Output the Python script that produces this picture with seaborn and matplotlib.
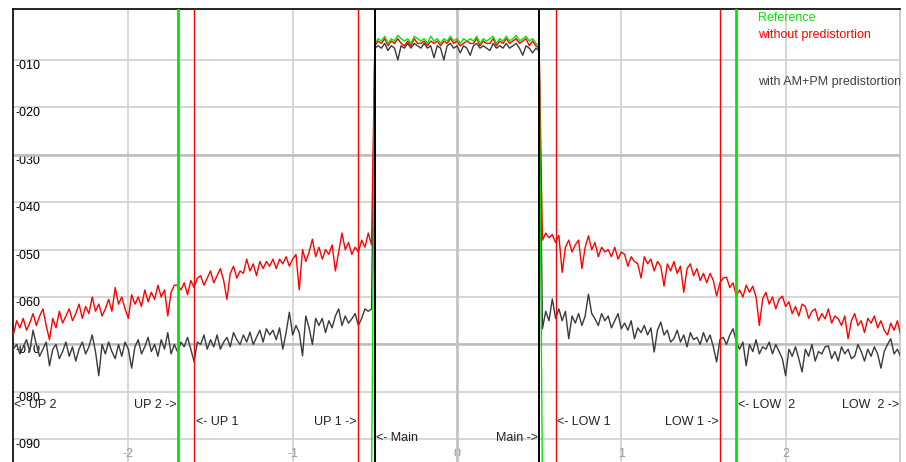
import numpy as np
import pandas as pd
import seaborn as sns
from matplotlib import pyplot as plt

sns.set_style("white")
plt.rcParams["font.family"] = ["Liberation Sans", "DejaVu Sans"]
plt.rcParams["font.size"] = 9

# frequency grid of the three bands (main channel and both adjacent sides)
left_x = np.linspace(-2.70, -0.52, 110)
main_x = np.linspace(-0.50, 0.50, 51)
right_x = np.linspace(0.52, 2.70, 110)

# main channel level, dB
ref_main = [-6.5, -5.5, -6.0, -5.0, -6.5, -5.5, -6.0, -4.8, -5.5, -6.0,
            -5.5, -6.5, -5.0, -5.5, -6.0, -5.5, -6.5, -5.0, -6.0, -5.5,
            -6.5, -5.5, -6.0, -5.0, -6.0, -5.5, -6.5, -5.5, -6.0, -5.5,
            -6.0, -5.0, -6.5, -5.5, -6.0, -5.5, -5.0, -6.5, -5.5, -6.0,
            -5.0, -6.0, -5.5, -4.8, -6.0, -5.5, -5.0, -6.0, -5.5, -6.5, -7.0]
raw_main = [-7.0, -6.0, -6.5, -5.5, -7.0, -6.0, -6.5, -5.5, -6.5, -7.0,
            -6.0, -7.0, -5.5, -6.5, -6.5, -6.0, -7.0, -6.0, -6.5, -6.0,
            -7.0, -6.0, -6.5, -5.5, -6.5, -6.0, -7.0, -6.5, -6.0, -6.5,
            -6.5, -5.5, -7.0, -6.0, -6.5, -6.5, -5.5, -7.0, -6.0, -6.5,
            -5.5, -6.5, -6.0, -5.5, -6.5, -6.0, -5.5, -7.0, -6.0, -7.0, -7.5]
pd_main = [-7.5, -7.0, -7.5, -6.5, -8.0, -7.0, -7.5, -10.0, -7.0, -7.5,
           -6.5, -7.5, -6.5, -7.0, -7.5, -6.5, -7.5, -7.0, -9.5, -7.0,
           -7.5, -10.0, -7.0, -6.5, -7.5, -7.0, -8.5, -7.0, -7.5, -9.0,
           -7.0, -6.5, -7.5, -7.0, -7.5, -8.0, -6.5, -7.5, -7.0, -7.5,
           -6.5, -7.5, -7.0, -6.5, -7.5, -9.0, -7.0, -7.5, -8.5, -7.5, -8.0]

# without predistortion, adjacent bands
raw_left = [-68.0, -65.0, -66.5, -64.5, -67.0, -65.5, -63.5, -66.0, -64.0, -62.5,
            -66.0, -69.0, -64.5, -66.5, -63.0, -65.5, -64.0, -62.5, -65.0, -63.5,
            -61.5, -64.5, -62.0, -63.5, -60.0, -63.0, -61.5, -64.0, -62.5, -60.5,
            -63.0, -58.0, -61.5, -60.0, -62.5, -64.5, -59.5, -61.5, -60.0, -62.0,
            -58.5, -61.0, -59.0, -60.5, -57.5, -60.0, -58.5, -64.0, -59.0, -57.5,
            -57.5, -58.5, -57.0, -59.5, -56.5, -58.0, -56.0, -55.5, -57.5, -56.0,
            -54.5, -57.0, -55.5, -54.0, -56.5, -60.5, -55.0, -53.5, -56.0, -54.5,
            -55.0, -52.0, -54.5, -53.0, -55.5, -52.5, -54.0, -52.5, -53.5, -52.0,
            -54.0, -52.0, -53.0, -51.5, -53.5, -52.0, -51.0, -58.5, -50.0, -52.5,
            -50.5, -47.8, -51.5, -49.5, -52.0, -50.0, -51.0, -49.0, -54.5, -50.5,
            -46.5, -50.0, -48.5, -51.0, -49.5, -50.5, -48.0, -49.5, -46.5, -49.0]
raw_right = [-48.0, -46.5, -47.5, -46.8, -48.5, -47.0, -54.8, -49.5, -48.0, -50.5,
             -49.0, -48.0, -54.0, -49.5, -47.1, -50.0, -48.5, -51.5, -49.5, -50.5,
             -50.0, -51.5, -49.5, -52.0, -50.5, -51.0, -53.5, -51.5, -52.5, -53.0,
             -56.0, -51.5, -53.0, -52.0, -54.5, -52.5, -53.5, -57.7, -53.0, -54.5,
             -52.5, -55.0, -53.5, -59.0, -54.0, -53.0, -55.5, -54.0, -56.5, -55.0,
             -57.0, -55.0, -56.5, -59.8, -57.0, -56.0, -55.8, -58.0, -57.0, -59.8,
             -58.5, -60.0, -57.5, -59.0, -57.7, -60.0, -66.0, -60.4, -59.0, -61.5,
             -60.0, -62.5, -60.5, -59.8, -62.0, -61.0, -63.5, -62.0, -64.0, -61.5,
             -62.0, -64.5, -63.0, -62.5, -65.0, -63.5, -64.6, -62.5, -65.5, -64.0,
             -64.6, -66.0, -64.0, -68.8, -65.0, -63.5, -66.0, -65.0, -67.5, -64.5,
             -65.5, -64.0, -66.5, -65.0, -67.0, -68.0, -65.5, -67.0, -65.0, -68.0]

# with AM+PM predistortion, adjacent bands
pd_left = [-71.0, -70.0, -72.0, -70.5, -69.0, -71.5, -67.0, -70.0, -72.5, -71.0,
           -69.5, -74.5, -71.0, -70.0, -73.0, -71.5, -69.5, -72.5, -70.5, -73.5,
           -71.0, -69.5, -72.0, -70.5, -68.0, -71.5, -76.6, -70.0, -72.0, -69.5,
           -71.5, -73.0, -70.0, -72.5, -69.5, -71.0, -75.0, -70.5, -69.0, -72.0,
           -70.5, -68.5, -71.5, -70.0, -72.5, -69.0, -71.0, -67.5, -72.0, -70.0,
           -71.6, -69.5, -70.5, -68.5, -71.0, -73.6, -69.5, -70.0, -68.0, -71.0,
           -69.0, -70.5, -68.0, -71.0, -69.5, -68.5, -70.5, -67.5, -69.0, -70.0,
           -68.0, -69.5, -67.4, -70.0, -68.5, -67.0, -69.5, -66.7, -68.0, -67.0,
           -69.0, -66.5, -71.0, -67.5, -63.2, -68.0, -66.0, -67.5, -72.4, -64.0,
           -66.5, -70.0, -64.5, -66.0, -64.5, -67.5, -65.0, -66.5, -64.0, -62.5,
           -66.0, -64.0, -65.5, -64.6, -63.5, -66.0, -64.5, -62.5, -63.0, -62.5]
pd_right = [-66.7, -63.0, -65.0, -60.4, -64.5, -62.5, -65.0, -63.0, -68.8, -64.0,
            -65.5, -63.5, -66.0, -64.0, -59.4, -63.5, -64.6, -66.0, -63.5, -65.0,
            -64.0, -66.5, -65.0, -63.5, -66.7, -65.5, -67.0, -65.0, -68.8, -66.5,
            -67.5, -66.0, -68.0, -66.5, -71.6, -67.0, -65.3, -68.0, -67.0, -69.5,
            -68.8, -67.0, -69.5, -68.0, -70.5, -67.5, -69.0, -68.5, -70.0, -67.5,
            -69.5, -68.0, -70.5, -73.7, -69.0, -68.5, -70.0, -68.0, -66.7, -69.5,
            -71.0, -69.5, -74.5, -70.0, -71.5, -69.0, -72.0, -70.5, -71.0, -69.5,
            -72.0, -70.0, -71.5, -73.0, -76.6, -71.0, -72.5, -70.5, -73.0, -75.8,
            -71.0, -72.5, -70.0, -73.5, -71.5, -72.0, -70.5, -70.3, -73.0, -71.5,
            -73.5, -70.5, -72.0, -71.0, -73.0, -72.5, -70.0, -71.5, -73.5, -71.0,
            -72.5, -70.5, -72.0, -75.0, -71.5, -70.0, -68.8, -72.0, -71.0, -72.5]

ref_floor = -100.0  # reference is below the display outside the main channel

y_ticks = [-10, -20, -30, -40, -50, -60, -70, -80, -90]
y_labels = ["-010", "-020", "-030", "-040", "-050", "-060", "-070", "-080", "-090"]
x_ticks = [-2, -1, 0, 1, 2]
x_labels = ["-2", "-1", "0", "1", "2"]

# channel edges
main_edges = [-0.50, 0.50]
adj1_edges = [-1.60, -0.60, 0.60, 1.60]
ref_edges = [-1.70, 1.70]

GREEN = "#00e800"
RED = "#ff0000"
DARK = "#3a3a3a"

fig = plt.figure(figsize=(9.06, 4.62), dpi=100)
ax = fig.add_axes([13 / 906, 0, 887 / 906, 453 / 462])
ax.set_axisbelow(True)

ref = pd.DataFrame({"f": np.concatenate([[left_x[-1]], main_x, [right_x[0]]]),
                    "dB": np.concatenate([[ref_floor], ref_main, [ref_floor]])})
raw = pd.DataFrame({"f": np.concatenate([left_x, main_x, right_x]),
                    "dB": np.concatenate([raw_left, raw_main, raw_right])})
pdist = pd.DataFrame({"f": np.concatenate([left_x, main_x, right_x]),
                      "dB": np.concatenate([pd_left, pd_main, pd_right])})

sns.lineplot(data=pdist, x="f", y="dB", color=DARK, lw=1.0, ax=ax, zorder=3)
sns.lineplot(data=raw, x="f", y="dB", color=RED, lw=1.0, ax=ax, zorder=4)
sns.lineplot(data=ref, x="f", y="dB", color=GREEN, lw=1.0, ax=ax, zorder=5)

for xv in ref_edges:
    ax.axvline(xv, color=GREEN, lw=2.0, zorder=6)
for xv in adj1_edges:
    ax.axvline(xv, color=RED, lw=1.0, zorder=6)
for xv in main_edges:
    ax.axvline(xv, color="black", lw=1.4, zorder=6)

ax.set_xlim(-2.702, 2.696)
ax.set_ylim(-94.8, 0.76)

ax.set_yticks(y_ticks)
ax.set_yticklabels(y_labels)
ax.set_xticks(x_ticks)
ax.set_xticklabels(x_labels)
ax.tick_params(axis="y", direction="in", length=0, pad=-1.5, labelsize=9, labelcolor="black")
ax.tick_params(axis="x", direction="in", length=0, pad=-10, labelsize=9, labelcolor="#9a9a9a")
for lab in ax.get_yticklabels():
    lab.set_horizontalalignment("left")
    lab.set_verticalalignment("top")

ax.grid(True, color="#cfcfcf", lw=1.2)
ax.axhline(-30, color="#bdbdbd", lw=1.8, zorder=1)
ax.axhline(-70, color="#bdbdbd", lw=1.8, zorder=1)
ax.axvline(0, color="#c4c4c4", lw=2.0, zorder=1)
ax.set_xlabel("")
ax.set_ylabel("")

for side in ["left", "top"]:
    ax.spines[side].set_color("black")
    ax.spines[side].set_linewidth(1.2)
ax.spines["right"].set_color("#c4c4c4")
ax.spines["right"].set_linewidth(1.2)
ax.spines["bottom"].set_visible(False)

# channel labels
lab_kw = dict(fontsize=9, color="#222222", va="center", zorder=7)
ax.text(-2.695, -82.8, "<- UP 2", ha="left", **lab_kw)
ax.text(ref_edges[0] - 0.01, -82.8, "UP 2 ->", ha="right", **lab_kw)
ax.text(adj1_edges[0] + 0.01, -86.3, "<- UP 1", ha="left", **lab_kw)
ax.text(adj1_edges[1] - 0.01, -86.3, "UP 1 ->", ha="right", **lab_kw)
ax.text(main_edges[0] + 0.01, -89.8, "<- Main", ha="left", **lab_kw)
ax.text(main_edges[1] - 0.01, -89.8, "Main ->", ha="right", **lab_kw)
ax.text(adj1_edges[2] + 0.01, -86.3, "<- LOW 1", ha="left", **lab_kw)
ax.text(adj1_edges[3] - 0.01, -86.3, "LOW 1 ->", ha="right", **lab_kw)
ax.text(ref_edges[1] + 0.01, -82.8, "<- LOW  2", ha="left", **lab_kw)
ax.text(2.69, -82.8, "LOW  2 ->", ha="right", **lab_kw)

# legend texts
ax.text(1.83, -1.2, "Reference", color=GREEN, ha="left", va="center", fontsize=9, zorder=7)
ax.text(1.83, -4.7, "without predistortion", color=RED, ha="left", va="center", fontsize=9, zorder=7)
ax.text(1.83, -14.6, "with AM+PM predistortion", color="#404040", ha="left", va="center",
        fontsize=9, zorder=7, clip_on=True)

plt.savefig("out.png", dpi=100)
